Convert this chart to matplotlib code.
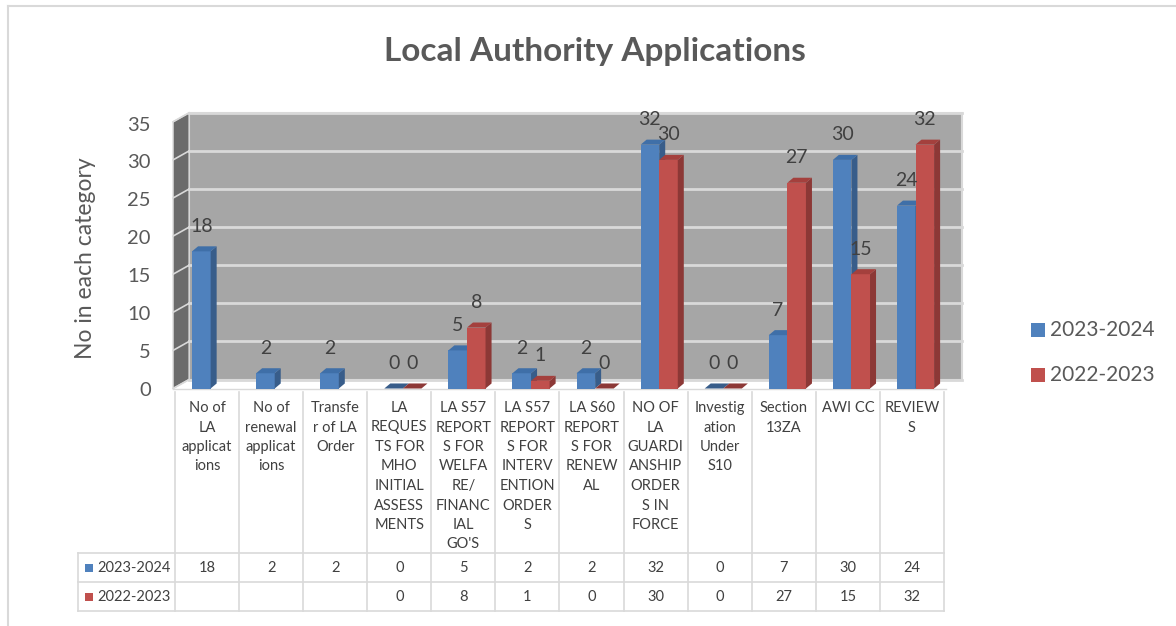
import matplotlib.pyplot as plt
from matplotlib.patches import Polygon, Rectangle
from matplotlib.lines import Line2D
import matplotlib.transforms as mtransforms

plt.rcParams['font.family'] = ['Lato', 'DejaVu Sans']

# data
categories = ["No of\nLA\napplicat\nions", "No of\nrenewal\napplicat\nions", "Transfe\nr of LA\nOrder",
              "LA\nREQUES\nTS FOR\nMHO\nINITIAL\nASSESS\nMENTS",
              "LA S57\nREPORT\nS FOR\nWELFA\nRE/\nFINANC\nIAL\nGO'S",
              "LA S57\nREPORT\nS FOR\nINTERV\nENTION\nORDER\nS",
              "LA S60\nREPORT\nS FOR\nRENEW\nAL",
              "NO OF\nLA\nGUARDI\nANSHIP\nORDER\nS IN\nFORCE",
              "Investig\nation\nUnder\nS10", "Section\n13ZA", "AWI CC", "REVIEW\nS"]
series_names = ["2023-2024", "2022-2023"]
vals_2324 = [18, 2, 2, 0, 5, 2, 2, 32, 0, 7, 30, 24]
vals_2223 = [None, None, None, 0, 8, 1, 0, 30, 0, 27, 15, 32]
yticks = [0, 5, 10, 15, 20, 25, 30, 35]

W, H = 1176, 626
fig = plt.figure(figsize=(W / 100, H / 100), dpi=100)

# axes geometry (pixels)
Y0, K = 388.5, 7.62
CW = 64.08
ax = fig.add_axes([175 / W, 1 - Y0 / H, 12.3 * CW / W, 37.5 * K / H])
ax.set_xlim(0, 12.3)
ax.set_ylim(0, 37.5)
ax.axis('off')

def fy(py):
    return 1 - py / H

def fx(px):
    return px / W

# walls
wdx, wdy = 0.25, 1.18
xl = -0.03
xr = 12.28
ax.add_patch(Polygon([(xl + wdx, wdy), (xr, wdy), (xr, 35 + wdy), (xl + wdx, 35 + wdy)],
                     closed=True, facecolor='#A6A6A6', edgecolor='#D9D9D9', lw=1.5, clip_on=False))
ax.add_patch(Polygon([(xl, 0), (xl + wdx, wdy), (xl + wdx, 35 + wdy), (xl, 35)],
                     closed=True, facecolor='#6B6B6B', edgecolor='#D9D9D9', lw=1, clip_on=False))
for t in yticks:
    ax.plot([xl + wdx, xr], [t + wdy, t + wdy], color='#D9D9D9', lw=2, clip_on=False, zorder=1)
    ax.plot([xl, xl + wdx], [t, t + wdy], color='#D9D9D9', lw=1.2, clip_on=False, zorder=1)
    ax.text(xl - 0.35, (t * 7.57 - 1.5) / K, str(t), ha='right', va='center', fontsize=14.5,
            color='#595959')
ax.plot([xl, xr - wdx], [0, 0], color='#D9D9D9', lw=1, clip_on=False)

# bars
bw, bdx, bdy = 0.29, 0.094, 0.66
colors = [('#4F81BD', '#385D8A', '#3F6FA8'), ('#C0504D', '#8C3836', '#A4403D')]
for s, vals in enumerate([vals_2324, vals_2223]):
    front, side, top = colors[s]
    for i, v in enumerate(vals):
        if v is None:
            continue
        x = i + 0.266 + s * bw
        if v > 0:
            ax.add_patch(Rectangle((x, 0), bw, v, facecolor=front, edgecolor='none', zorder=3))
            ax.add_patch(Polygon([(x + bw, 0), (x + bw + bdx, bdy), (x + bw + bdx, v + bdy), (x + bw, v)],
                                 closed=True, facecolor=side, edgecolor='none', zorder=3))
        ax.add_patch(Polygon([(x, v), (x + bw, v), (x + bw + bdx, v + bdy), (x + bdx, v + bdy)],
                             closed=True, facecolor=top if v > 0 else side, edgecolor='none', zorder=3))
        ax.text(x + bw / 2, v + 3.3, str(v), ha='center', va='center', fontsize=14,
                color='#404040', zorder=5)

# title and axis title
fig.text(fx(595), fy(51), "Local Authority Applications", ha='center', va='center',
         fontsize=24, fontweight='bold', color='#595959')
fig.text(fx(86), fy(258), "No in each category", ha='center', va='center', rotation=90,
         fontsize=16.5, color='#595959')

# legend
for j, name in enumerate(series_names):
    py = 330 + j * 45
    fig.patches.append(Rectangle((fx(1031), fy(py + 7)), 14 / W, 14 / H, transform=fig.transFigure,
                                 facecolor=colors[j][0], edgecolor='none'))
    fig.text(fx(1050), fy(py), name, ha='left', va='center', fontsize=15, color='#595959')

# data table
tr = mtransforms.blended_transform_factory(ax.transData, fig.transFigure)
gc = '#D9D9D9'
for i in range(13):
    fig.lines.append(Line2D([fx(175 + i * CW)] * 2, [fy(392), fy(611)], color=gc, lw=1.2,
                            transform=fig.transFigure))
for py in (553, 582, 611):
    fig.lines.append(Line2D([fx(78), fx(175 + 12 * CW)], [fy(py)] * 2, color=gc, lw=1.2,
                            transform=fig.transFigure))
fig.lines.append(Line2D([fx(78)] * 2, [fy(553), fy(611)], color=gc, lw=1.2, transform=fig.transFigure))
for i, lab in enumerate(categories):
    ax.text(i + 0.5, fy(401), lab, transform=tr, ha='center', va='top', fontsize=10.5,
            color='#404040', linespacing=1.5)
for j, vals in enumerate([vals_2324, vals_2223]):
    py = 568 + j * 29
    fig.patches.append(Rectangle((fx(85), fy(py + 4)), 8 / W, 8 / H, transform=fig.transFigure,
                                 facecolor=colors[j][0], edgecolor='none'))
    fig.text(fx(97), fy(py), series_names[j], ha='left', va='center', fontsize=10.5, color='#404040')
    for i, v in enumerate(vals):
        if v is None:
            continue
        ax.text(i + 0.5, fy(py), str(v), transform=tr, ha='center', va='center', fontsize=10.5,
                color='#404040')

# chart border
fig.lines.append(Line2D([fx(8), fx(8)], [fy(6), fy(626)], color=gc, lw=1.5, transform=fig.transFigure))
fig.lines.append(Line2D([fx(8), fx(1176)], [fy(6), fy(6)], color=gc, lw=1.5, transform=fig.transFigure))

fig.savefig('out.png', dpi=100)
